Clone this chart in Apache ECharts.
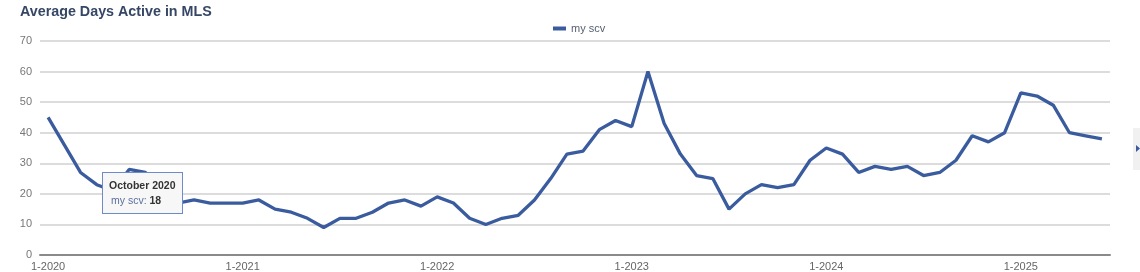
<!DOCTYPE html>
<html>
<head>
<meta charset="utf-8">
<script src="https://cdn.jsdelivr.net/npm/echarts@6/dist/echarts.min.js"></script>
<style>
html,body{margin:0;padding:0;background:#fff;}
#chart{width:1140px;height:272px;}
</style>
</head>
<body>
<div id="chart"></div>
<script>
const years = [2020, 2021, 2022, 2023, 2024, 2025];
const monthNames = ["January","February","March","April","May","June","July","August","September","October","November","December"];
const seriesName = "my scv";
const values = [
  45,36,27,23,21,28,27,22,17,18,17,17,
  17,18,15,14,12,9,12,12,14,17,18,16,
  19,17,12,10,12,13,18,25,33,34,41,44,
  42,60,43,33,26,25,15,20,23,22,23,31,
  35,33,27,29,28,29,26,27,31,39,37,40,
  53,52,49,40,39,38
];
const yTicks = [0,10,20,30,40,50,60,70];

const categories = [];
for (let i = 0; i < values.length; i++) {
  const y = years[Math.floor(i / 12)];
  categories.push((i % 12 + 1) + "-" + y);
}
const tooltipIndex = 9;

const chart = echarts.init(document.getElementById('chart'));
const lineColor = '#3a5c9e';
const font = 'Liberation Sans, Arial, sans-serif';
chart.setOption({
  animation: false,
  title: {
    text: 'Average Days Active in MLS',
    left: 15, top: 0,
    textStyle: { fontFamily: font, fontSize: 14.3, fontWeight: 'bold', color: '#364766' }
  },
  legend: {
    data: [seriesName],
    top: 18, left: 548,
    icon: 'rect', itemWidth: 13, itemHeight: 4, itemGap: 6,
    textStyle: { fontFamily: font, fontSize: 11, color: '#555e70' }
  },
  grid: { left: 40, right: 30, top: 41, bottom: 15, containLabel: false },
  tooltip: {
    trigger: 'axis',
    axisPointer: { type: 'none' },
    alwaysShowContent: true,
    showContent: true,
    transitionDuration: 0,
    position: [102, 172],
    backgroundColor: '#f7f7f7',
    borderColor: '#6b8cc7',
    borderWidth: 1,
    borderRadius: 0,
    padding: [5, 6, 5, 6],
    extraCssText: 'box-shadow:none;',
    formatter: function (ps) {
      const p = Array.isArray(ps) ? ps[0] : ps;
      const i = p.dataIndex;
      const label = monthNames[i % 12] + ' ' + years[Math.floor(i / 12)];
      return '<div style="font-family:Liberation Sans,Arial,sans-serif;font-size:10.5px;line-height:15px;">' +
        '<div style="font-weight:bold;color:#333;">' + label + '</div>' +
        '<div style="padding-left:2px;color:#5a6f9e;">' + p.seriesName + ': <b style="color:#333;">' + p.value + '</b></div></div>';
    }
  },
  xAxis: {
    type: 'category',
    data: categories,
    boundaryGap: true,
    axisLine: { lineStyle: { color: '#8a8a8a', width: 2 } },
    axisTick: { alignWithLabel: true, interval: 11, length: 5, lineStyle: { color: '#8a8a8a', width: 1.5 } },
    axisLabel: { interval: 11, margin: 6, fontFamily: font, fontSize: 11, color: '#666' },
    splitLine: { show: false }
  },
  yAxis: {
    type: 'value',
    min: yTicks[0], max: yTicks[yTicks.length - 1], interval: 10,
    axisLine: { show: false },
    axisTick: { show: false },
    axisLabel: { margin: 8, fontFamily: font, fontSize: 11, color: '#777' },
    splitLine: { lineStyle: { color: '#d0d0d0', width: 1.5 } }
  },
  graphic: [
    { type: 'rect', shape: { x: 1133, y: 128, width: 7, height: 42 }, style: { fill: '#f1f1f1' } },
    { type: 'polygon', shape: { points: [[1136, 145], [1140, 148.5], [1136, 152]] }, style: { fill: '#3a5c9e' } }
  ],
  series: [{
    name: seriesName,
    type: 'line',
    data: values,
    symbol: 'none',
    showSymbol: false,
    lineStyle: { color: lineColor, width: 3.3 },
    itemStyle: { color: lineColor },
    emphasis: { disabled: true }
  }]
});
setTimeout(function () {
  chart.dispatchAction({ type: 'showTip', seriesIndex: 0, dataIndex: tooltipIndex });
}, 0);
</script>
</body>
</html>
